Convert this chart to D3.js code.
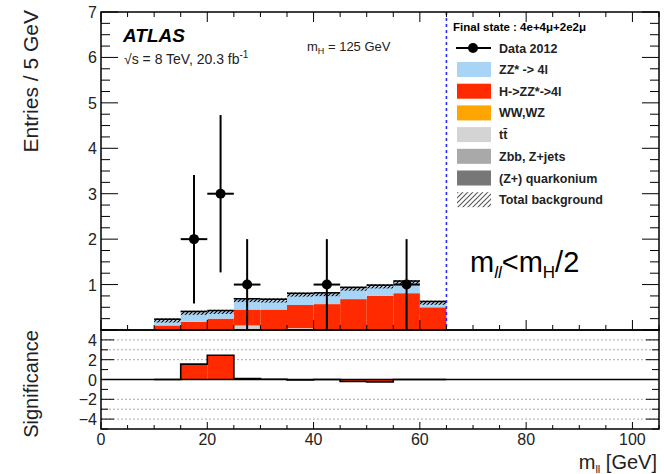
<!DOCTYPE html>
<html>
<head>
<meta charset="utf-8">
<script src="https://cdn.jsdelivr.net/npm/d3@7"></script>
<style>
  html, body { margin: 0; padding: 0; background: #fff; }
  svg text { font-family: "Liberation Sans", Arial, sans-serif; }
</style>
</head>
<body>
<svg id="chart" width="664" height="474"></svg>
<script>
// m_ll distribution, 5 GeV bins (lower edges)
const binEdges = [10, 15, 20, 25, 30, 35, 40, 45, 50, 55, 60];
const binWidth = 5;
// stacked expectations per bin (bottom to top)
const ttbar    = [0, 0, 0, 0.10, 0, 0.04, 0, 0, 0, 0, 0];
const higgs    = [0.10, 0.18, 0.25, 0.35, 0.45, 0.51, 0.57, 0.68, 0.75, 0.81, 0.50];
const zzStar   = [0.11, 0.20, 0.15, 0.21, 0.20, 0.23, 0.22, 0.23, 0.21, 0.24, 0.10];
const totalErr = 0.045;

// observed events
const dataX   = [17.5, 22.5, 27.5, 42.5, 57.5];
const dataY   = [2, 3, 1, 1, 1];

// significance per bin
const sigBins = [10, 15, 20, 25, 30, 35, 40, 45, 50, 55, 60];
const sigVals = [0, 1.55, 2.45, 0.1, 0.03, -0.05, 0, -0.2, -0.25, 0, 0];

const xTicks = [0, 20, 40, 60, 80, 100];
const yTicksMain = [1, 2, 3, 4, 5, 6, 7];
const yTicksSig = [-4, -2, 0, 2, 4];
const sigGrid = [-4, -3, -2, 2, 3, 4];

const legendItems = [
  { label: "ZZ* -> 4l", color: "#a8d4f6" },
  { label: "H->ZZ*->4l", color: "#ff2a00" },
  { label: "WW,WZ", color: "#ffa500" },
  { label: "tt\u0304", color: "#d4d4d4" },
  { label: "Zbb, Z+jets", color: "#a9a9a9" },
  { label: "(Z+) quarkonium", color: "#777777" },
  { label: "Total background", color: "hatch" }
];

const svg = d3.select("#chart");
const L = 101, R = 659, T = 12, MID = 330, B = 429;

const x = d3.scaleLinear().domain([0, 105]).range([L, R]);
const y = d3.scaleLinear().domain([0, 7]).range([MID, T]);
const ys = d3.scaleLinear().domain([-5, 5]).range([B, MID]);

// hatch pattern for the total background band
const defs = svg.append("defs");
const pat = defs.append("pattern").attr("id", "hatch").attr("patternUnits", "userSpaceOnUse")
  .attr("width", 4).attr("height", 4);
pat.append("path").attr("d", "M-1,1 l2,-2 M0,4 l4,-4 M3,5 l2,-2")
  .attr("stroke", "#000").attr("stroke-width", 1.2);
const pat2 = defs.append("pattern").attr("id", "hatchLeg").attr("patternUnits", "userSpaceOnUse")
  .attr("width", 5).attr("height", 5);
pat2.append("path").attr("d", "M-1,1 l2,-2 M0,5 l5,-5 M4,6 l2,-2")
  .attr("stroke", "#555").attr("stroke-width", 1.1);

// stacked histogram
const stackRows = binEdges.map((e, i) => ({ edge: e, ttbar: ttbar[i], higgs: higgs[i], zz: zzStar[i] }));
const stack = d3.stack().keys(["ttbar", "higgs", "zz"])(stackRows);
const colors = { ttbar: "#d0d0d0", higgs: "#ff2a00", zz: "#a8d4f6" };
const gStack = svg.append("g");
stack.forEach(layer => {
  gStack.selectAll(null).data(layer).enter().append("rect")
    .attr("x", d => x(d.data.edge))
    .attr("width", d => x(d.data.edge + binWidth) - x(d.data.edge))
    .attr("y", d => y(d[1]))
    .attr("height", d => Math.max(0, y(d[0]) - y(d[1])))
    .attr("fill", colors[layer.key]);
});
// total background uncertainty band
const totals = stackRows.map(r => r.ttbar + r.higgs + r.zz);
gStack.selectAll(null).data(binEdges).enter().append("rect")
  .attr("x", d => x(d))
  .attr("width", d => x(d + binWidth) - x(d))
  .attr("y", (d, i) => y(totals[i] + totalErr))
  .attr("height", (d, i) => y(totals[i] - totalErr) - y(totals[i] + totalErr))
  .attr("fill", "url(#hatch)");
gStack.selectAll(null).data(binEdges).enter().append("line")
  .attr("x1", d => x(d)).attr("x2", d => x(d + binWidth))
  .attr("y1", (d, i) => y(totals[i] + totalErr) + 0.8)
  .attr("y2", (d, i) => y(totals[i] + totalErr) + 0.8)
  .attr("stroke", "#000").attr("stroke-width", 1.6);

// mH/2 cut line
svg.append("line").attr("x1", x(65)).attr("x2", x(65)).attr("y1", T).attr("y2", MID)
  .attr("stroke", "#2a2aff").attr("stroke-width", 1.6).attr("stroke-dasharray", "3,3");

// data points with sqrt(N) errors
const gData = svg.append("g");
dataX.forEach((cx, i) => {
  const v = dataY[i], err = Math.sqrt(v);
  gData.append("line").attr("x1", x(cx)).attr("x2", x(cx))
    .attr("y1", y(Math.max(0, v - err))).attr("y2", y(v + err))
    .attr("stroke", "#000").attr("stroke-width", 2);
  gData.append("line").attr("x1", x(cx - binWidth / 2)).attr("x2", x(cx + binWidth / 2))
    .attr("y1", y(v)).attr("y2", y(v))
    .attr("stroke", "#000").attr("stroke-width", 2);
  gData.append("circle").attr("cx", x(cx)).attr("cy", y(v)).attr("r", 5).attr("fill", "#000");
});

// significance panel
sigGrid.forEach(g => {
  svg.append("line").attr("x1", L).attr("x2", R).attr("y1", ys(g)).attr("y2", ys(g))
    .attr("stroke", "#aaa").attr("stroke-width", 1).attr("stroke-dasharray", "2,2");
});
const gSig = svg.append("g");
gSig.selectAll(null).data(sigBins).enter().append("rect")
  .attr("x", d => x(d))
  .attr("width", d => x(d + binWidth) - x(d))
  .attr("y", (d, i) => ys(Math.max(0, sigVals[i])))
  .attr("height", (d, i) => Math.abs(ys(sigVals[i]) - ys(0)))
  .attr("fill", "#ff2a00");
svg.append("line").attr("x1", L).attr("x2", R).attr("y1", ys(0)).attr("y2", ys(0))
  .attr("stroke", "#000").attr("stroke-width", 1.5);
const stepPts = [];
sigBins.forEach((e, i) => { stepPts.push([e, sigVals[i]]); stepPts.push([e + binWidth, sigVals[i]]); });
const stepLine = d3.line().x(d => x(d[0])).y(d => ys(d[1]));
svg.append("path").attr("d", stepLine([[sigBins[0], 0], ...stepPts, [65, 0]]))
  .attr("fill", "none").attr("stroke", "#000").attr("stroke-width", 1.6);

// frames
svg.append("rect").attr("x", L).attr("y", T).attr("width", R - L).attr("height", MID - T)
  .attr("fill", "none").attr("stroke", "#000").attr("stroke-width", 1.5);
svg.append("rect").attr("x", L).attr("y", MID).attr("width", R - L).attr("height", B - MID)
  .attr("fill", "none").attr("stroke", "#000").attr("stroke-width", 1.5);

// tick marks
const gT = svg.append("g").attr("stroke", "#000").attr("stroke-width", 1);
d3.range(0, 105.1, 5).forEach(v => {
  const major = v % 20 === 0;
  const lm = major ? 10 : 5;
  gT.append("line").attr("x1", x(v)).attr("x2", x(v)).attr("y1", MID).attr("y2", MID - lm);
  gT.append("line").attr("x1", x(v)).attr("x2", x(v)).attr("y1", T).attr("y2", T + lm);
  const ls = major ? 7 : 4;
  gT.append("line").attr("x1", x(v)).attr("x2", x(v)).attr("y1", B).attr("y2", B - ls);
});
d3.range(0, 7.01, 0.25).forEach(v => {
  const major = Math.abs(v - Math.round(v)) < 1e-6;
  const lm = major ? 17 : 9;
  gT.append("line").attr("x1", L).attr("x2", L + lm).attr("y1", y(v)).attr("y2", y(v));
  gT.append("line").attr("x1", R).attr("x2", R - lm).attr("y1", y(v)).attr("y2", y(v));
});
d3.range(-5, 5.01, 1).forEach(v => {
  const major = v % 2 === 0;
  const lm = major ? 13 : 7;
  gT.append("line").attr("x1", L).attr("x2", L + lm).attr("y1", ys(v)).attr("y2", ys(v));
  gT.append("line").attr("x1", R).attr("x2", R - lm).attr("y1", ys(v)).attr("y2", ys(v));
});

// tick labels
const lab = svg.append("g").attr("fill", "#222").attr("font-size", 16);
xTicks.forEach(v => lab.append("text").attr("x", x(v)).attr("y", 445)
  .attr("text-anchor", "middle").text(v));
yTicksMain.forEach(v => lab.append("text").attr("x", 97).attr("y", y(v) + 6)
  .attr("text-anchor", "end").text(v));
yTicksSig.forEach(v => lab.append("text").attr("x", 97).attr("y", ys(v) + 6)
  .attr("text-anchor", "end").text(v < 0 ? "\u2212" + Math.abs(v) : v));

// axis titles
svg.append("text").attr("transform", "translate(38,10) rotate(-90)")
  .attr("text-anchor", "end").attr("font-size", 21).attr("fill", "#222").text("Entries / 5 GeV");
svg.append("text").attr("transform", "translate(38,330) rotate(-90)")
  .attr("text-anchor", "end").attr("font-size", 20).attr("fill", "#222").text("Significance");
const xt = svg.append("text").attr("x", 657).attr("y", 469).attr("text-anchor", "end")
  .attr("font-size", 20).attr("fill", "#222");
xt.append("tspan").text("m");
xt.append("tspan").attr("font-size", 11).attr("dy", 4).text("ll");
xt.append("tspan").attr("dy", -4).text(" [GeV]");

// annotations
svg.append("text").attr("x", 123).attr("y", 42).attr("font-size", 19)
  .attr("font-weight", "bold").attr("font-style", "italic").text("ATLAS");
const en = svg.append("text").attr("x", 124).attr("y", 64).attr("font-size", 14).attr("fill", "#222");
en.append("tspan").text("\u221As = 8 TeV, 20.3 fb");
en.append("tspan").attr("font-size", 10).attr("dy", -6).text("-1");
const mh = svg.append("text").attr("x", 307).attr("y", 51).attr("font-size", 13).attr("fill", "#222");
mh.append("tspan").text("m");
mh.append("tspan").attr("font-size", 9).attr("dy", 3).text("H");
mh.append("tspan").attr("dy", -3).text(" = 125 GeV");

const cut = svg.append("text").attr("x", 470).attr("y", 272).attr("font-size", 29)
  .attr("font-family", "Lato, 'Open Sans', sans-serif").attr("fill", "#000");
cut.append("tspan").text("m");
cut.append("tspan").attr("font-size", 17).attr("dy", 6).attr("font-style", "italic").text("ll");
cut.append("tspan").attr("dy", -6).text("<m");
cut.append("tspan").attr("font-size", 17).attr("dy", 6).text("H");
cut.append("tspan").attr("dy", -6).text("/2");

// legend
const leg = svg.append("g");
leg.append("text").attr("x", 453).attr("y", 31).attr("font-size", 11.5).attr("font-weight", "bold")
  .text("Final state : 4e+4\u03BC+2e2\u03BC");
leg.append("line").attr("x1", 456).attr("x2", 491).attr("y1", 48).attr("y2", 48)
  .attr("stroke", "#000").attr("stroke-width", 2);
leg.append("circle").attr("cx", 473).attr("cy", 48).attr("r", 5).attr("fill", "#000");
leg.append("text").attr("x", 499).attr("y", 52.5).attr("font-size", 12.5).attr("font-weight", "bold")
  .attr("fill", "#222").text("Data 2012");
legendItems.forEach((it, i) => {
  const cy = 69.5 + i * 21.7;
  leg.append("rect").attr("x", 457).attr("y", cy - 7.5).attr("width", 34).attr("height", 15)
    .attr("fill", it.color === "hatch" ? "url(#hatchLeg)" : it.color);
  leg.append("text").attr("x", 499).attr("y", cy + 4.5).attr("font-size", 12.5)
    .attr("font-weight", "bold").attr("fill", "#222").text(it.label);
});
</script>
</body>
</html>
